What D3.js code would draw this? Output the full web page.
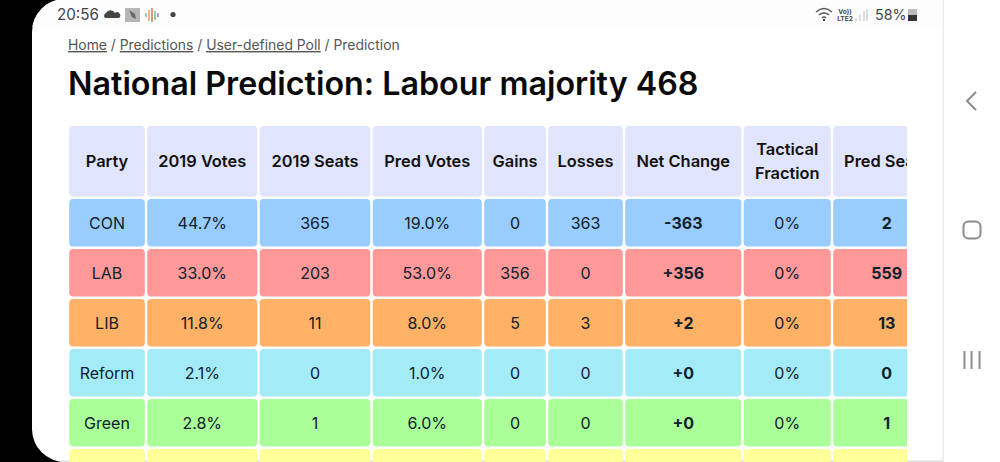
<!DOCTYPE html>
<html><head><meta charset="utf-8">
<script src="https://cdn.jsdelivr.net/npm/d3@7"></script>
<style>
html,body{margin:0;padding:0;background:#000;overflow:hidden}
svg{display:block;font-family:Inter,"Noto Sans",sans-serif}
</style></head><body><div id="c"></div>
<script>
const columns = ["Party","2019 Votes","2019 Seats","Pred Votes","Gains","Losses","Net Change","Tactical Fraction","Pred Seats"];
const parties = ["CON","LAB","LIB","Reform","Green",""];
const votes2019 = ["44.7%","33.0%","11.8%","2.1%","2.8%",""];
const seats2019 = ["365","203","11","0","1",""];
const predVotes = ["19.0%","53.0%","8.0%","1.0%","6.0%",""];
const gains = ["0","356","5","0","0",""];
const losses = ["363","0","3","0","0",""];
const netChange = ["-363","+356","+2","+0","+0",""];
const tactical = ["0%","0%","0%","0%","0%",""];
const predSeats = ["2","559","13","0","1",""];
const rowColors = ["#99ccff","#ff9999","#ffb266","#a3ecf7","#aaff99","#ffff99"];
const headerColor = "#e0e4fc";
const breadcrumb = [["Home",true],["Predictions",true],["User-defined Poll",true],["Prediction",false]];

const W=1000,H=462;
const colEdges=[68,146,258.5,371.5,483,547,624,742.5,832,941.5];
const rowEdges=[124.8,197.8,247.8,297.8,347.8,397.8,447.8,497.8];
const gap=2.4;
const svg=d3.select("#c").append("svg").attr("width",W).attr("height",H);
const defs=svg.append("defs");
defs.append("clipPath").attr("id","tbl").append("rect").attr("x",60).attr("y",120).attr("width",847).attr("height",342);
defs.append("clipPath").attr("id","screen").append("rect").attr("x",32).attr("y",-1).attr("width",1010).attr("height",H+1).attr("rx",33);

// Device screen
const screen=svg.append("g").attr("clip-path","url(#screen)");
screen.append("rect").attr("x",32).attr("y",0).attr("width",W).attr("height",H).attr("fill","#fff");
screen.append("rect").attr("x",32).attr("y",0).attr("width",911).attr("height",27).attr("fill","#fdfdfe");
svg.append("rect").attr("x",942.5).attr("y",0).attr("width",1.5).attr("height",H).attr("fill","#ececec");
svg.append("rect").attr("x",60).attr("y",460.5).attr("width",883).attr("height",1.5).attr("fill","#ddd");

// Status bar
const sb=svg.append("g").attr("fill","#444");
sb.append("text").attr("x",57).attr("y",20).attr("font-size",15.2).attr("fill","#444").text("20:56");
sb.append("path").attr("d","M105 18a3 3 0 0 1 1-5a5 5 0 0 1 9 0a3 3 0 0 1 4 5z").attr("fill","#444");
sb.append("rect").attr("x",125).attr("y",8).attr("width",15).attr("height",14).attr("fill","#b5b5b5");
sb.append("path").attr("d","M129 10l6 4l1 5l-4-2z").attr("fill","#666");
[["#6fb7d6",146,13,17],["#e8a33c",149,10,21],["#d9705a",152,8,22],["#7ab87a",155,11,20],["#8a7fc9",158,13,17]].forEach(d=>{
  sb.append("line").attr("x1",d[1]).attr("x2",d[1]).attr("y1",d[2]).attr("y2",d[3]).attr("stroke",d[0]).attr("stroke-width",1.5);
});
sb.append("circle").attr("cx",173).attr("cy",14.5).attr("r",2.6).attr("fill","#444");
sb.append("path").attr("d","M816 12q8-7 16 0M819 15q5-4 10 0M822 18q2-2 4 0").attr("fill","none").attr("stroke","#555").attr("stroke-width",1.4);
sb.append("circle").attr("cx",824).attr("cy",20).attr("r",1.2);
sb.append("text").attr("x",845).attr("y",14).attr("text-anchor","middle").attr("font-size",6.5).attr("font-weight",700).text("Vo))");
sb.append("text").attr("x",845).attr("y",21).attr("text-anchor","middle").attr("font-size",6.5).attr("font-weight",700).text("LTE2");
[[856,18],[860,15],[864,11],[867,9]].forEach(d=>sb.append("line").attr("x1",d[0]).attr("x2",d[0]).attr("y1",d[1]).attr("y2",21).attr("stroke","#bbb").attr("stroke-width",1));
sb.append("text").attr("x",875).attr("y",20).attr("font-size",14.3).attr("fill","#444").text("58%");
sb.append("rect").attr("x",908).attr("y",9).attr("width",9).attr("height",12).attr("fill","#bbb");
sb.append("rect").attr("x",908).attr("y",15).attr("width",9).attr("height",6).attr("fill","#333");

// Nav bar
const nav=svg.append("g").attr("fill","none").attr("stroke","#8c8c8c").attr("stroke-width",2);
nav.append("path").attr("d","M976 92L967 101L976 110");
nav.append("rect").attr("x",963.5).attr("y",221.5).attr("width",17).attr("height",17).attr("rx",5);
[964.5,971.5,979.5].forEach(x=>nav.append("line").attr("x1",x).attr("x2",x).attr("y1",351).attr("y2",369));

// Breadcrumb
const bc=svg.append("text").attr("x",68).attr("y",50).attr("font-size",13.9).attr("fill","#555");
breadcrumb.forEach((d,i)=>{
  bc.append("tspan").attr("text-decoration",d[1]?"underline":null).text(d[0]);
  if(i<breadcrumb.length-1) bc.append("tspan").text(" / ");
});
// Title
svg.append("text").attr("x",68).attr("y",95).attr("font-size",32.25).attr("font-weight",600).attr("fill","#0a0a0a").text("National Prediction: Labour majority 468");

// Table
const t=svg.append("g").attr("clip-path","url(#tbl)");
const rows=parties.map((p,i)=>[p,votes2019[i],seats2019[i],predVotes[i],gains[i],losses[i],netChange[i],tactical[i],predSeats[i]]);
const boldCols=new Set([6,8]);
const cellX=j=>colEdges[j]+gap/2, cellW=j=>colEdges[j+1]-colEdges[j]-gap;
const cellY=i=>rowEdges[i]+gap/2, cellH=i=>rowEdges[i+1]-rowEdges[i]-gap;
const cx=j=>(colEdges[j]+colEdges[j+1])/2, cy=i=>(rowEdges[i]+rowEdges[i+1])/2;

columns.forEach((c,j)=>{
  t.append("rect").attr("x",cellX(j)).attr("y",cellY(0)).attr("width",cellW(j)).attr("height",cellH(0)).attr("rx",4).attr("fill",headerColor);
  const lines=c==="Tactical Fraction"?["Tactical","Fraction"]:[c];
  lines.forEach((l,k)=>{
    t.append("text").attr("x",cx(j)).attr("y",cy(0)+5.8+(k-(lines.length-1)/2)*23.5)
      .attr("text-anchor","middle").attr("font-size",16.4).attr("font-weight",600).attr("fill","#111").text(l);
  });
});
rows.forEach((r,i)=>{
  r.forEach((v,j)=>{
    t.append("rect").attr("x",cellX(j)).attr("y",cellY(i+1)).attr("width",cellW(j)).attr("height",cellH(i+1)).attr("rx",4).attr("fill",rowColors[i]);
    if(v!=="") t.append("text").attr("x",cx(j)).attr("y",cy(i+1)+5.8)
      .attr("text-anchor","middle").attr("font-size",16).attr("font-weight",boldCols.has(j)?700:400).attr("fill","#10202c").text(v);
  });
});
</script></body></html>
